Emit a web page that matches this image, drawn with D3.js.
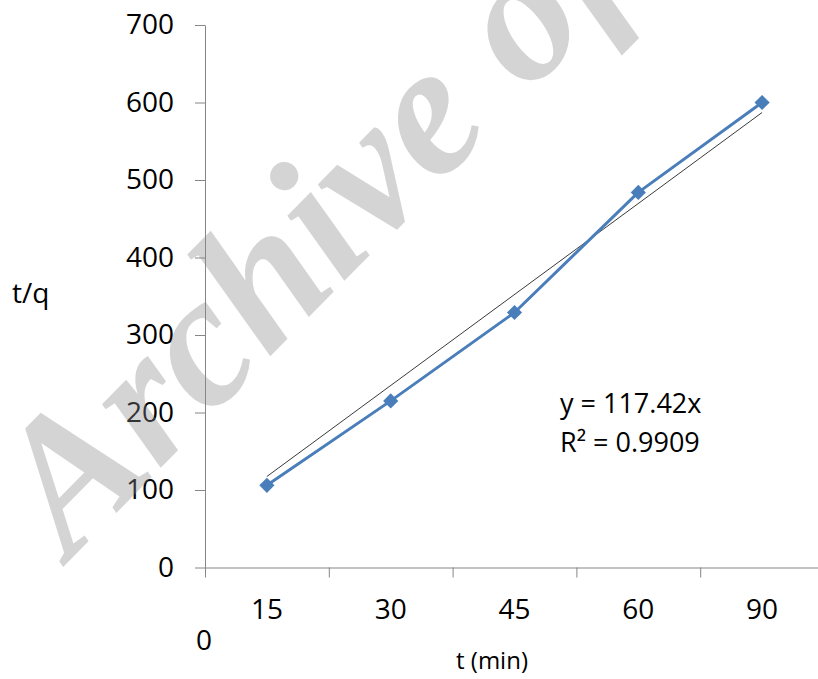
<!DOCTYPE html>
<html>
<head>
<meta charset="utf-8">
<script src="https://cdnjs.cloudflare.com/ajax/libs/d3/7.8.5/d3.min.js"></script>
<style>
  html, body { margin: 0; padding: 0; background: #fff; overflow: hidden; }
  svg { display: block; }
  text { font-family: "Open Sans", "Noto Sans", sans-serif; }
</style>
</head>
<body>
<svg id="chart" width="818" height="679"></svg>
<script>
// Pseudo-second-order kinetics: t/q against contact time
const categories = ["15", "30", "45", "60", "90"];
const tOverQ = [106, 215, 329, 484, 600];
const yTicks = [0, 100, 200, 300, 400, 500, 600, 700];
const trendSlope = 117.42;           // linear fit through origin, x = point index 1..5
const trendLabel = ["y = 117.42x", "R\u00B2 = 0.9909"];

const svg = d3.select("#chart");
const axisColor = "#868686";

const plotLeft = 205, plotTop = 25, plotBottom = 567.5, bandW = 123.8;
const x = d3.scaleBand().domain(categories).range([plotLeft, plotLeft + bandW * categories.length]);
const xEdge = d3.scaleLinear().domain([0, categories.length]).range([plotLeft, plotLeft + bandW * categories.length]);
const y = d3.scaleLinear().domain([0, 700]).range([plotBottom, plotTop]);

// y axis
const gy = svg.append("g").attr("transform", `translate(${plotLeft},0)`)
  .call(d3.axisLeft(y).tickValues(yTicks).tickSize(10).tickSizeOuter(0).tickPadding(21));
gy.select(".domain").attr("stroke", axisColor);
gy.selectAll(".tick line").attr("stroke", axisColor);
gy.selectAll(".tick text").attr("font-size", 28).attr("fill", "#000")
  .style("font-family", '"Open Sans", sans-serif');

// x axis: tick marks on category boundaries
const gx = svg.append("g").attr("transform", `translate(0,${plotBottom})`)
  .call(d3.axisBottom(xEdge).tickValues(d3.range(categories.length + 1)).tickSize(10).tickSizeOuter(0).tickFormat(""));
gx.select(".domain").attr("stroke", axisColor);
gx.selectAll(".tick line").attr("stroke", axisColor);

// x category labels centred in each band
const gxl = svg.append("g").attr("transform", `translate(0,${plotBottom})`)
  .call(d3.axisBottom(x).tickSize(0).tickPadding(32));
gxl.select(".domain").remove();
gxl.selectAll(".tick text").attr("font-size", 28).attr("fill", "#000")
  .style("font-family", '"Open Sans", sans-serif');

// axis titles
svg.append("text").attr("x", 12).attr("y", 303).attr("font-size", 28).attr("fill", "#000").text("t/q");
svg.append("text").attr("x", 204).attr("y", 650).attr("font-size", 28).attr("fill", "#000")
  .attr("text-anchor", "middle").text("0");
svg.append("text").attr("x", 492).attr("y", 669).attr("font-size", 24).attr("fill", "#000")
  .attr("text-anchor", "middle").text("t (min)");

// linear trend line
const cx = d => x(d) + x.bandwidth() / 2;
const first = categories[0], last = categories[categories.length - 1];
svg.append("line")
  .attr("x1", cx(first)).attr("y1", y(trendSlope * 1))
  .attr("x2", cx(last)).attr("y2", y(trendSlope * categories.length))
  .attr("stroke", "#3a3a3a").attr("stroke-width", 1);

// data series
const pts = categories.map((c, i) => ({ c, v: tOverQ[i] }));
svg.append("path").datum(pts)
  .attr("fill", "none").attr("stroke", "#4A7EBB").attr("stroke-width", 3)
  .attr("stroke-linejoin", "round")
  .attr("d", d3.line().x(d => cx(d.c)).y(d => y(d.v)));
svg.selectAll(".mk").data(pts).join("path").attr("class", "mk")
  .attr("d", d3.symbol(d3.symbolSquare, 115)())
  .attr("transform", d => `translate(${cx(d.c)},${y(d.v)}) rotate(45)`)
  .attr("fill", "#4A7EBB");

// regression label
svg.selectAll(".eq").data(trendLabel).join("text").attr("class", "eq")
  .attr("x", 560).attr("y", (d, i) => 413 + i * 38.5)
  .attr("font-size", 27).attr("fill", "#000").text(d => d);

// watermark
svg.append("text")
  .attr("transform", "translate(70,560) rotate(-45.5)")
  .attr("font-size", 188).attr("font-weight", "bold").attr("font-style", "italic")
  .style("font-family", '"Liberation Serif", "DejaVu Serif", serif')
  .attr("fill", "#8a8a8c").attr("fill-opacity", 0.37)
  .text("Archive of SID");
</script>
</body>
</html>
